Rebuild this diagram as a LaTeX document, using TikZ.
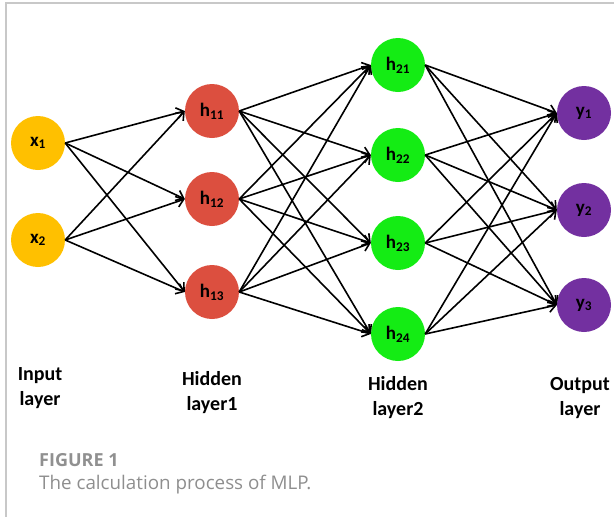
\documentclass[tikz,border=0pt]{standalone}
\usepackage{fontspec}
\setmainfont{Carlito}
\newfontfamily\capfont{Open Sans}
\usetikzlibrary{arrows.meta}
\definecolor{inputcol}{HTML}{FFC000}
\definecolor{hidonecol}{HTML}{DC4F3F}
\definecolor{hidtwocol}{HTML}{14EC14}
\definecolor{outcol}{HTML}{7330A0}
\definecolor{framecol}{HTML}{C8C8C8}
\definecolor{capdark}{HTML}{909090}
\definecolor{caplight}{HTML}{8E8E8E}
\tikzset{
  neuron/.style={circle, minimum size=54pt, inner sep=0pt,
    font=\bfseries\fontsize{19}{19}\selectfont},
  inp/.style={neuron, fill=inputcol},
  hidone/.style={neuron, fill=hidonecol},
  hidtwo/.style={neuron, fill=hidtwocol},
  outp/.style={neuron, fill=outcol},
  conn/.style={line width=1.6pt, -{Straight Barb[length=7pt,width=11pt,line width=1.6pt]}},
  layerlab/.style={align=center, font=\bfseries\fontsize{20}{25}\selectfont}
}
\begin{document}
\begin{tikzpicture}[x=1pt, y=-1pt]
  \useasboundingbox (0,0) rectangle (614,517);
  % frame
  \draw[framecol, line width=1.5pt] (6,517) -- (6,3) -- (614,3);

  % input layer
  \node[inp] (x1) at (38,143) {x\textsubscript{1}};
  \node[inp] (x2) at (38,240) {x\textsubscript{2}};
  % hidden layer 1
  \node[hidone] (h11) at (212,111) {h\textsubscript{11}};
  \node[hidone] (h12) at (212,199) {h\textsubscript{12}};
  \node[hidone] (h13) at (212,292) {h\textsubscript{13}};
  % hidden layer 2
  \node[hidtwo] (h21) at (398,65) {h\textsubscript{21}};
  \node[hidtwo] (h22) at (398,155) {h\textsubscript{22}};
  \node[hidtwo] (h23) at (398,243) {h\textsubscript{23}};
  \node[hidtwo] (h24) at (398,334) {h\textsubscript{24}};
  % output layer
  \node[outp] (y1) at (584,113) {y\textsubscript{1}};
  \node[outp] (y2) at (584,210) {y\textsubscript{2}};
  \node[outp] (y3) at (584,305) {y\textsubscript{3}};

  % fully connected weights
  \foreach \i in {1,2}
    \foreach \j in {1,2,3}
      \draw[conn] (x\i.east) -- (h1\j.west);
  \foreach \i in {1,2,3}
    \foreach \j in {1,2,3,4}
      \draw[conn] (h1\i.east) -- (h2\j.west);
  \foreach \i in {1,2,3,4}
    \foreach \j in {1,2,3}
      \draw[conn] (h2\i.east) -- (y\j.west);

  % layer captions
  \node[layerlab] (lin) at (40,388) {Input\\layer};
  \node[layerlab] (lhone) at (212,393) {Hidden\\layer1};
  \node[layerlab] (lhtwo) at (398,398) {Hidden\\layer2};
  \node[layerlab] (lout) at (580,398) {Output\\layer};

  % figure caption
  \node[anchor=base west, inner sep=0pt, text=capdark,
        font=\capfont\bfseries\fontsize{18}{18}\selectfont] (fig) at (39,466) {FIGURE 1};
  \node[anchor=base west, inner sep=0pt, text=caplight,
        font=\capfont\fontsize{18.8}{18.8}\selectfont] (cap) at (39,489) {The calculation process of MLP.};
\end{tikzpicture}
\end{document}
